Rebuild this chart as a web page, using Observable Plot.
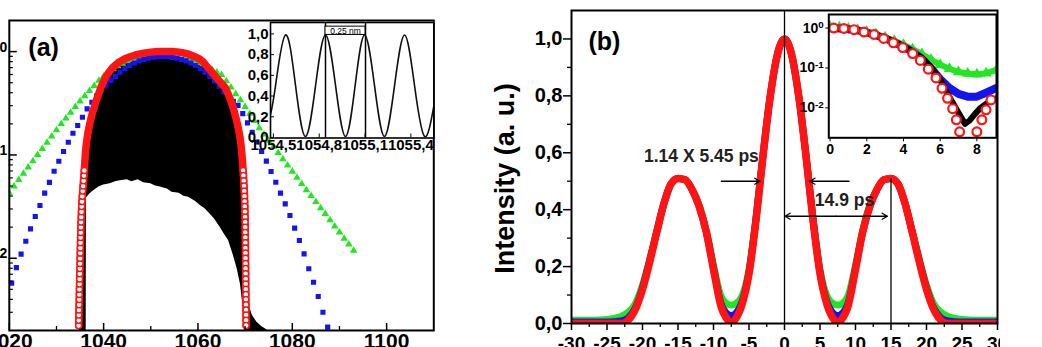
<!DOCTYPE html>
<html><head><meta charset="utf-8">
<script src="https://cdn.jsdelivr.net/npm/d3@7"></script>
<script src="https://cdn.jsdelivr.net/npm/@observablehq/plot@0.6"></script>
<style>
html,body{margin:0;padding:0;background:#fff;overflow:hidden;}
#root{position:relative;width:1042px;height:347px;overflow:hidden;}
#root svg{position:absolute;max-width:none;}
</style></head><body><div id="root"></div>
<script>
// ---------- Panel (a): spectra on log scale (values stored as log10 of intensity) ----------
const redAX = [
1034.70,1034.72,1034.75,1034.77,1034.80,1034.82,1034.85,1034.87,1034.90,1034.92,
1034.95,1034.97,1035.00,1035.02,1035.05,1035.07,1035.10,1035.12,1035.15,1035.18,
1035.21,1035.25,1035.30,1035.35,1035.41,1035.48,1035.56,1035.65,1035.74,1035.82,
1035.90,1035.97,1036.04,1036.11,
1036.20,1036.32,1036.46,1036.62,1036.82,1037.05,1037.30,1037.60,1037.92,1038.25,
1038.62,1039.00,1039.40,1039.85,1040.40,1041.10,1042.00,1043.30,1044.50,1045.60,
1047.00,1048.50,1050.00,1051.50,1053.00,1054.50,1056.00,1057.20,1058.30,1059.40,
1060.30,1061.10,1062.00,1062.95,1063.90,1064.85,1065.80,1066.30,1066.75,1067.15,
1067.50,1067.80,1068.10,1068.35,1068.60,1068.80,1068.98,1069.12,1069.23,1069.33,
1069.42,1069.50,1069.57,1069.64,1069.70,1069.77,1069.82,1069.86,1069.90,1069.93,
1069.96,1069.99,1070.01,1070.02,1070.03,1070.04,1070.05,1070.06,1070.07,1070.08,
1070.09,1070.10,1070.11,1070.12,1070.13,1070.14,1070.15,1070.16,1070.17,1070.18,
1070.19,1070.20,1070.21];
const redALog10 = [
-2.65,-2.60,-2.55,-2.50,-2.45,-2.40,-2.35,-2.30,-2.25,-2.20,
-2.15,-2.10,-2.05,-2.00,-1.95,-1.90,-1.85,-1.80,-1.75,-1.70,
-1.65,-1.60,-1.55,-1.50,-1.45,-1.40,-1.35,-1.30,-1.25,-1.20,
-1.15,-1.10,-1.05,-1.00,
-0.95,-0.90,-0.85,-0.80,-0.75,-0.70,-0.65,-0.60,-0.55,-0.50,
-0.45,-0.40,-0.35,-0.30,-0.25,-0.20,-0.15,-0.10,-0.07,-0.05,
-0.03,-0.015,-0.005,0,0,0,-0.005,-0.015,-0.03,-0.05,
-0.07,-0.10,-0.15,-0.20,-0.25,-0.30,-0.35,-0.40,-0.45,-0.50,
-0.55,-0.60,-0.65,-0.70,-0.75,-0.80,-0.85,-0.90,-0.95,-1.00,
-1.05,-1.10,-1.15,-1.20,-1.25,-1.30,-1.35,-1.40,-1.45,-1.50,
-1.55,-1.60,-1.65,-1.70,-1.75,-1.80,-1.85,-1.90,-1.95,-2.00,
-2.05,-2.10,-2.15,-2.20,-2.25,-2.30,-2.35,-2.40,-2.45,-2.50,
-2.55,-2.60,-2.65];

const greenAX = [1020,1021,1022,1023,1024,1025,1026,1027,1028,1029,1030,1031,1032,1033,1034,1035,1036,1037,1038,1039,
1040,1041,1042,1043,1044,1045,1046,1047,1048,1049,1050,1051,1052,1053,1054,1055,1056,1057,1058,1059,
1060,1061,1062,1063,1064,1065,1066,1067,1068,1069,1070,1071,1072,1073,1074,1075,1076,1077,1078,1079,
1080,1081,1082,1083,1084,1085,1086,1087,1088,1089,1090,1091,1092,1093];
const greenALog10 = [-1.37,-1.305,-1.24,-1.18,-1.12,-1.06,-1.00,-0.94,-0.88,-0.82,-0.76,-0.70,-0.645,-0.59,-0.535,-0.48,-0.43,-0.38,-0.33,-0.28,
-0.24,-0.20,-0.17,-0.14,-0.115,-0.095,-0.08,-0.07,-0.06,-0.055,-0.05,-0.05,-0.05,-0.05,-0.05,-0.055,-0.06,-0.07,-0.08,-0.095,
-0.11,-0.13,-0.15,-0.175,-0.20,-0.225,-0.285,-0.345,-0.41,-0.47,-0.535,-0.60,-0.67,-0.74,-0.80,-0.86,-0.92,-0.98,-1.04,-1.10,
-1.16,-1.22,-1.28,-1.34,-1.395,-1.455,-1.515,-1.57,-1.63,-1.69,-1.75,-1.81,-1.865,-1.925];

const blueAX = [1020.5,1021.5,1022.5,1023.5,1024.5,1025.5,1026.5,1027.5,1028.5,1029.5,1030.5,1031.5,1032.5,1033.5,1034.5,1035.5,1036.5,1037.5,1038.5,1039.5,
1040.5,1041.5,1042.5,1043.5,1044.5,1045.5,1046.5,1047.5,1048.5,1049.5,1050.5,1051.5,1052.5,1053.5,1054.5,1055.5,1056.5,1057.5,1058.5,1059.5,
1060.5,1061.5,1062.5,1063.5,1064.5,1065.5,1066.5,1067.5,1068.5,1069.5,1070.5,1071.5,1072.5,1073.5,1074.5,1075.5,1076.5,1077.5,1078.5,1079.5,
1080.5,1081.5,1082.5,1083.5,1084.5,1085.5,1086.5,1087.5];
const blueALog10 = [-2.24,-2.09,-1.96,-1.835,-1.715,-1.596,-1.489,-1.37,-1.265,-1.158,-1.061,-0.967,-0.877,-0.79,-0.715,-0.635,-0.554,-0.49,-0.43,-0.375,
-0.325,-0.28,-0.24,-0.20,-0.165,-0.135,-0.11,-0.09,-0.075,-0.063,-0.055,-0.05,-0.05,-0.05,-0.055,-0.063,-0.075,-0.09,-0.11,-0.135,
-0.165,-0.20,-0.24,-0.285,-0.335,-0.39,-0.44,-0.48,-0.52,-0.60,-0.69,-0.78,-0.875,-0.965,-1.06,-1.16,-1.264,-1.37,-1.473,-1.586,
-1.709,-1.828,-1.957,-2.102,-2.232,-2.37,-2.522,-2.667];

const blackAX = [1034.9,1035.3,1035.7,1036.0,1036.3,1036.35,1037.0,1037.8,1039.0,1040.0,1041.4,1042.5,1043.5,1045.0,1046.0,1047.3,1048.5,1050.0,1051.0,1052.0,
1053.5,1054.5,1056.0,1057.0,1058.0,1059.5,1060.5,1061.5,1062.5,1063.5,1064.7,1065.5,1066.5,1067.5,1068.3,1069.0,1069.6,1070.0,1070.3,1070.8,
1071.5,1072.5,1073.5,1074.5,1075.2];
const blackAHighLog10 = [-2.72,-1.9,-1.35,-1.1,-1.0,-0.98,-0.78,-0.62,-0.45,-0.35,-0.24,-0.18,-0.14,-0.10,-0.08,-0.065,-0.055,-0.05,-0.05,-0.05,
-0.05,-0.05,-0.055,-0.06,-0.07,-0.09,-0.11,-0.14,-0.19,-0.25,-0.33,-0.39,-0.47,-0.58,-0.72,-0.92,-1.25,-1.75,-2.3,-2.45,
-2.55,-2.62,-2.66,-2.69,-2.72];
const blackALowLog10 = [-2.72,-2.72,-2.72,-2.72,-2.72,-1.42,-1.38,-1.35,-1.31,-1.29,-1.28,-1.26,-1.25,-1.24,-1.26,-1.24,-1.27,-1.28,-1.30,-1.31,
-1.33,-1.36,-1.37,-1.40,-1.41,-1.45,-1.49,-1.52,-1.57,-1.62,-1.70,-1.76,-1.83,-1.97,-2.10,-2.25,-2.48,-2.72,-2.72,-2.72,
-2.72,-2.72,-2.72,-2.72,-2.72];

const aXTicks = [1020,1040,1060,1080,1100];
const aXMinorTicks = [1030,1050,1070,1090];
const aYTicks = [1,0.1,0.01];
const aYTickLabels = [["10","0"],["10","-1"],["10","-2"]];

// ---------- Inset (a): transmission comb ----------
const insetAX = [1054.481,1054.514,1054.579,1054.645,1054.710,1054.776,1054.841,1054.907,1054.972,1055.035,1055.097,1055.162,1055.227,1055.293,1055.359,1055.424,1055.489,1055.55];
const insetAY = [0.22,0.5,0.99,0.5,0.01,0.5,0.99,0.5,0.01,0.5,0.99,0.5,0.01,0.5,0.99,0.5,0.01,0.3];
const insetAMarkers = [1054.841,1055.103];
const insetABox = [{x1:1054.841,x2:1055.103,y1:0.99,y2:1.07,label:"0.25 nm"}];
const insetAXTicks = [1054.5,1054.8,1055.1,1055.4];
const insetAYTicks = [0,0.2,0.4,0.6,0.8,1.0];

// ---------- Panel (b): temporal intensity ----------
const bX = [-30,-29,-28,-27,-26,-25,-24,-23,-22,-21,-20,-19,-18,-17,-16,-15,-14,-13,-12,-11,-10,-9,-8,-7.5,-7,-6,-5,-4,-3,-2,-1,0,
1,2,3,4,5,6,7,7.5,8,9,10,11,12,13,14,15,16,17,18,19,20,21,22,23,24,25,26,27,28,29,30];
const bRed = [0,0,0,0,0,0,0,0,0.012,0.05,0.12,0.215,0.32,0.42,0.49,0.51,0.505,0.47,0.41,0.32,0.19,0.065,0.012,0,0.012,0.065,0.175,0.365,0.595,0.80,0.945,1.0,
0.945,0.80,0.595,0.365,0.175,0.065,0.012,0,0.012,0.065,0.19,0.32,0.41,0.47,0.505,0.51,0.49,0.42,0.32,0.215,0.12,0.05,0.012,0,0,0,0,0,0,0,0];
const bBlue = [0.005,0.005,0.005,0.005,0.005,0.005,0.006,0.009,0.02,0.055,0.125,0.22,0.32,0.42,0.49,0.51,0.505,0.47,0.41,0.32,0.195,0.075,0.033,0.028,0.033,0.075,0.18,0.37,0.595,0.80,0.945,1.0,
0.945,0.80,0.595,0.37,0.18,0.075,0.033,0.028,0.033,0.075,0.195,0.32,0.41,0.47,0.505,0.51,0.49,0.42,0.32,0.22,0.125,0.055,0.02,0.009,0.006,0.005,0.005,0.005,0.005,0.005,0.005];
const bGreen = [0.011,0.011,0.011,0.011,0.012,0.014,0.018,0.025,0.04,0.07,0.135,0.225,0.325,0.42,0.49,0.51,0.505,0.47,0.415,0.325,0.205,0.10,0.068,0.065,0.068,0.095,0.19,0.375,0.60,0.80,0.945,1.0,
0.945,0.80,0.60,0.375,0.19,0.095,0.068,0.065,0.068,0.10,0.205,0.325,0.415,0.47,0.505,0.51,0.49,0.42,0.325,0.225,0.135,0.07,0.04,0.025,0.018,0.014,0.012,0.011,0.011,0.011,0.011];
const bXTicks = [-30,-25,-20,-15,-10,-5,0,5,10,15,20,25,30];
const bXMinorTicks = [-27.5,-22.5,-17.5,-12.5,-7.5,-2.5,2.5,7.5,12.5,17.5,22.5,27.5];
const bYTicks = [0,0.2,0.4,0.6,0.8,1.0];
const bYMinorTicks = [0.1,0.3,0.5,0.7,0.9];
const bRules = [{x:0, top:1.1},{x:15, top:0.51}];
const bArrows = [{x1:-8.9,x2:-3.45,y:0.5},{x1:9.1,x2:3.55,y:0.5},{x1:7.25,x2:0.05,y:0.377},{x1:7.25,x2:14.5,y:0.377}];
const bNotes = [{x:-11.7,y:0.588,text:"1.14 X 5.45 ps"},{x:8.45,y:0.431,text:"14.9 ps"}];

// ---------- Inset (b): log-scale wings ----------
const insetBRedX = [0.2,0.75,1.3,1.85,2.4,2.92,3.45,3.96,4.5,4.92,5.35,5.77,6.1,6.4,6.68,6.88,7.06,8.0,8.27,8.5,8.77];
const insetBRedLog10 = [0.0,-0.01,-0.04,-0.1,-0.16,-0.26,-0.37,-0.49,-0.64,-0.81,-1.03,-1.25,-1.51,-1.76,-2.02,-2.3,-2.6,-2.6,-2.3,-2.05,-1.8];
const insetBBlackX = [0,1,2,3,4,5,5.5,6.0,6.3,6.6,7.0,7.35,7.6,7.9,8.2,8.5,8.8,9.07];
const insetBBlackLog10 = [0,-0.03,-0.1,-0.24,-0.45,-0.75,-0.98,-1.3,-1.55,-1.8,-2.12,-2.4,-2.32,-2.15,-2.0,-1.9,-1.8,-1.76];
const insetBX = [0,0.5,1,1.5,2,2.5,3,3.5,4,4.5,5,5.5,6,6.5,7,7.5,8,8.5,9.07];
const insetBBlueLog10 = [0,-0.01,-0.03,-0.06,-0.11,-0.18,-0.26,-0.36,-0.47,-0.6,-0.77,-1.0,-1.28,-1.5,-1.65,-1.72,-1.72,-1.62,-1.5];
const insetBGreenLog10 = [0.03,0.02,-0.01,-0.04,-0.09,-0.15,-0.23,-0.32,-0.42,-0.53,-0.65,-0.79,-0.92,-1.02,-1.1,-1.14,-1.16,-1.13,-1.05];
const insetBXTicks = [0,2,4,6,8];
const insetBYTicks = [1,0.1,0.01];
const insetBYTickLabels = [["10","0"],["10","-1"],["10","-2"]];

// ---------- styling ----------
const FONT = "'Liberation Sans', Arial, Helvetica, sans-serif";
const RED = "#ff1414", BLUE = "#1414f0", GREEN = "#22e622";
const root = document.getElementById("root");
function place(svg, left, top) { svg.style.left = left + "px"; svg.style.top = top + "px"; root.appendChild(svg); }
const rows = (xs, ys, f = v => v) => xs.map((x, i) => ({x, y: f(ys[i])}));
const pow10 = v => 10 ** v;
const SEP = "\u2009";
// power labels: rendered as "10" + raised exponent (post-processed into a tspan)
const powLabel = (ticks, labels) => d => labels[ticks.indexOf(d)].join(SEP);
function raiseExponents(svg) {
  svg.querySelectorAll("text").forEach(t => {
    const s = t.textContent;
    const m = /^10\u2009(-?\d)$/.exec(s);
    if (!m) return;
    t.textContent = "10";
    const sp = document.createElementNS("http://www.w3.org/2000/svg", "tspan");
    sp.setAttribute("dy", "-0.45em");
    sp.setAttribute("font-size", "70%");
    sp.textContent = m[1];
    t.appendChild(sp);
  });
}

// ----- Panel (a) -----
const aRed = redAX.map((x, i) => ({x, y: 10 ** redALog10[i], L: redALog10[i]}));
const aGreen = rows(greenAX, greenALog10, pow10);
const aBlue = rows(blueAX, blueALog10, pow10);
const aBlack = blackAX.map((x, i) => ({x, lo: 10 ** blackALowLog10[i], hi: 10 ** blackAHighLog10[i]}));
const aMinorY = [];
for (const e of [-3, -2, -1, 0]) for (let k = 2; k <= 9; k++) { const v = k * 10 ** e; if (v > 0.002 && v < 2) aMinorY.push(v); }
const aW = 475.3, aML = 48.8, aMR = 2, aMT = 20, aMB = 17;
const aFW = aW - aML - aMR, aFH = 347 - aMT - aMB;
const panelA = Plot.plot({
  width: aW, height: 347, marginLeft: aML, marginRight: aMR, marginTop: aMT, marginBottom: aMB,
  style: {background: "transparent", fontFamily: FONT, fontWeight: "bold", color: "black"},
  x: {domain: [1020, 1110]},
  y: {type: "log", domain: [0.002, 2]},
  marks: [
    Plot.areaY(aBlack, {x: "x", y1: "lo", y2: "hi", fill: "black", clip: true}),
    Plot.dot(aGreen, {x: "x", y: "y", symbol: "triangle", r: 2.8, fill: GREEN, clip: true}),
    Plot.dot(aBlue, {x: "x", y: "y", symbol: "square", r: 2.9, fill: BLUE, clip: true}),
    Plot.line(aRed, {x: "x", y: "y", stroke: RED, strokeWidth: 7.5, clip: true}),
    Plot.dot(aRed.filter(d => d.L <= -1.15), {x: "x", y: "y", r: 3, stroke: RED, strokeWidth: 1.5, fill: "white", clip: true}),
    Plot.tickX(aXTicks, {x: d => d, insetTop: aFH - 7, stroke: "black", strokeWidth: 1.5}),
    Plot.tickX(aXMinorTicks, {x: d => d, insetTop: aFH - 4, stroke: "black", strokeWidth: 1.3}),
    Plot.tickY(aYTicks, {y: d => d, insetRight: aFW - 8, stroke: "black", strokeWidth: 1.5}),
    Plot.tickY(aMinorY, {y: d => d, insetRight: aFW - 4, stroke: "black", strokeWidth: 1.2}),
    Plot.axisX({ticks: aXTicks, tickSize: 0, tickPadding: 3, fontSize: 21, fontWeight: "bold", tickFormat: d => String(d), label: null}),
    Plot.axisY({ticks: aYTicks, tickSize: 0, tickPadding: 2, fontSize: 20, fontWeight: "bold", tickFormat: powLabel(aYTicks, aYTickLabels), label: null}),
    Plot.frame({stroke: "black", strokeWidth: 2}),
    Plot.text(["(a)"], {frameAnchor: "top-left", textAnchor: "start", lineAnchor: "top", dx: 19, dy: 18, fontSize: 25, fontWeight: "bold"})
  ]
});
raiseExponents(panelA);
place(panelA, -40, 0);

// ----- Inset (a) -----
const iaW = 205.3, iaML = 40, iaMR = 2, iaMT = 22, iaMB = 22.5, iaH = 160;
const iaFW = iaW - iaML - iaMR, iaFH = iaH - iaMT - iaMB;
const insetA = Plot.plot({
  width: iaW, height: iaH, marginLeft: iaML, marginRight: iaMR, marginTop: iaMT, marginBottom: iaMB,
  style: {background: "transparent", fontFamily: FONT, fontWeight: "bold", color: "black"},
  x: {domain: [1054.481, 1055.55]},
  y: {domain: [-0.005, 1.11]},
  marks: [
    Plot.frame({fill: "white", stroke: null}),
    Plot.ruleX(insetAMarkers, {x: d => d, stroke: "black", strokeWidth: 1.5}),
    Plot.line(rows(insetAX, insetAY), {x: "x", y: "y", curve: "natural", stroke: "#111", strokeWidth: 1.6, clip: true}),
    Plot.rect(insetABox, {x1: "x1", x2: "x2", y1: "y1", y2: "y2", fill: "white", stroke: "black", strokeWidth: 1}),
    Plot.text(insetABox, {x: d => (d.x1 + d.x2) / 2, y: d => (d.y1 + d.y2) / 2, text: "label", fontSize: 8.5, fontWeight: "normal"}),
    Plot.tickX(insetAXTicks, {x: d => d, insetTop: iaFH - 4, stroke: "black"}),
    Plot.tickY(insetAYTicks, {y: d => d, insetRight: iaFW - 4, stroke: "black"}),
    Plot.axisX({ticks: insetAXTicks, tickSize: 0, tickPadding: 1, fontSize: 15, fontWeight: "bold", tickFormat: d => d.toFixed(1).replace(".", ","), label: null}),
    Plot.axisY({ticks: insetAYTicks, tickSize: 0, tickPadding: 2, fontSize: 15, fontWeight: "bold", tickFormat: d => d.toFixed(1).replace(".", ","), label: null}),
    Plot.frame({stroke: "black", strokeWidth: 1.6})
  ]
});
place(insetA, 230, 0);

// ----- Panel (b) -----
const panelB = Plot.plot({
  width: 520, height: 347, marginLeft: 91, marginRight: 3, marginTop: 10, marginBottom: 24,
  style: {background: "transparent", fontFamily: FONT, fontWeight: "bold", color: "black"},
  x: {domain: [-30, 30]},
  y: {domain: [0, 1.1]},
  marks: [
    Plot.line(rows(bX, bGreen), {x: "x", y: "y", stroke: GREEN, strokeWidth: 7, curve: "monotone-x", clip: true}),
    Plot.line(rows(bX, bBlue), {x: "x", y: "y", stroke: BLUE, strokeWidth: 7, curve: "monotone-x", clip: true}),
    Plot.line(rows(bX, bRed), {x: "x", y: "y", stroke: RED, strokeWidth: 7.5, curve: "monotone-x", clip: true}),
    Plot.ruleX(bRules, {x: "x", y1: 0, y2: "top", stroke: "black", strokeWidth: 1.3}),
    Plot.arrow(bArrows, {x1: "x1", x2: "x2", y1: "y", y2: "y", stroke: "black", strokeWidth: 1.3, headLength: 7}),
    Plot.text(bNotes, {x: "x", y: "y", text: "text", fontSize: 17.5, fontWeight: "bold", fill: "#222"}),
    Plot.axisX({ticks: bXTicks, tickSize: 7, tickPadding: 6, fontSize: 19, fontWeight: "bold", strokeWidth: 1.5, tickFormat: d => String(d), label: null}),
    Plot.axisX({ticks: bXMinorTicks, tickSize: 4, tickFormat: () => "", strokeWidth: 1.3, label: null}),
    Plot.axisY({ticks: bYTicks, tickSize: 8, tickPadding: 1, fontSize: 20, fontWeight: "bold", strokeWidth: 1.5, tickFormat: d => d.toFixed(1).replace(".", ","), label: null}),
    Plot.axisY({ticks: bYMinorTicks, tickSize: 4, tickFormat: () => "", strokeWidth: 1.3, label: null}),
    Plot.frame({stroke: "black", strokeWidth: 2}),
    Plot.text(["(b)"], {frameAnchor: "top-left", textAnchor: "start", lineAnchor: "top", dx: 17, dy: 22, fontSize: 25, fontWeight: "bold"}),
    Plot.text(["Intensity (a. u.)"], {frameAnchor: "left", textAnchor: "middle", lineAnchor: "middle", rotate: -90, dx: -66, dy: 11.5, fontSize: 27, fontWeight: "bold"})
  ]
});
place(panelB, 480, 0);

// ----- Inset (b) -----
const insetB = Plot.plot({
  width: 208, height: 165, marginLeft: 38.3, marginRight: 2, marginTop: 14, marginBottom: 27.7,
  style: {background: "transparent", fontFamily: FONT, fontWeight: "bold", color: "black"},
  x: {domain: [-0.07, 9.07]},
  y: {type: "log", domain: [10 ** -2.75, 10 ** 0.34]},
  marks: [
    Plot.frame({fill: "white", stroke: null}),
    Plot.line(rows(insetBX, insetBGreenLog10, pow10), {x: "x", y: "y", stroke: GREEN, strokeWidth: 6, clip: true}),
    Plot.dot(rows(insetBX, insetBGreenLog10, pow10), {x: "x", y: "y", symbol: "triangle", r: 4.2, fill: GREEN, clip: true}),
    Plot.line(rows(insetBX, insetBBlueLog10, pow10), {x: "x", y: "y", stroke: BLUE, strokeWidth: 8, clip: true}),
    Plot.line(rows(insetBBlackX, insetBBlackLog10, pow10), {x: "x", y: "y", stroke: "black", strokeWidth: 6, clip: true}),
    Plot.dot(rows(insetBRedX, insetBRedLog10, pow10), {x: "x", y: "y", r: 4.4, stroke: RED, strokeWidth: 2.2, fill: "white", clip: true}),
    Plot.axisX({ticks: insetBXTicks, tickSize: 4, tickPadding: 2, fontSize: 14, fontWeight: "bold", tickFormat: d => String(d), label: null}),
    Plot.axisY({ticks: insetBYTicks, tickSize: 3, tickPadding: 2, fontSize: 14, fontWeight: "bold", tickFormat: powLabel(insetBYTicks, insetBYTickLabels), label: null}),
    Plot.frame({stroke: "black", strokeWidth: 2})
  ]
});
raiseExponents(insetB);
place(insetB, 790, 0);
</script></body></html>
